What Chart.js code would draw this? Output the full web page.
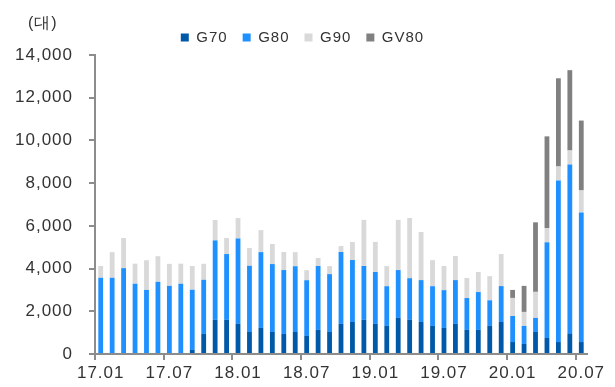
<!DOCTYPE html>
<html>
<head>
<meta charset="utf-8">
<script src="https://cdn.jsdelivr.net/npm/chart.js@4.4.1/dist/chart.umd.min.js"></script>
<style>
  html, body { margin: 0; padding: 0; background: #fff; }
  #wrap { width: 615px; height: 387px; }
</style>
</head>
<body>
<div id="wrap"><canvas id="chartG"></canvas></div>
<script>
// 월별 판매 (대)
var months = [
  '17.01','17.02','17.03','17.04','17.05','17.06','17.07','17.08','17.09','17.10','17.11','17.12',
  '18.01','18.02','18.03','18.04','18.05','18.06','18.07','18.08','18.09','18.10','18.11','18.12',
  '19.01','19.02','19.03','19.04','19.05','19.06','19.07','19.08','19.09','19.10','19.11','19.12',
  '20.01','20.02','20.03','20.04','20.05','20.06','20.07'
];
var g70 = [0,0,0,0,0,0,0,0,190,940,1600,1600,
  1410,1030,1220,1030,940,1030,845,1130,1030,1410,1500,1600,
  1410,1315,1690,1600,1500,1315,1220,1410,1130,1130,1315,1500,
  560,470,1030,750,560,940,560];
var g80 = [3570,3570,4020,3290,3000,3380,3190,3290,2820,2535,3720,3080,
  4000,3100,3550,3180,2990,3080,2610,2990,2710,3365,2900,2520,
  2430,1860,2240,1950,1960,1860,1770,2050,1490,1770,1200,1680,
  1220,845,660,4480,7560,7930,6070];
var g90 = [550,1200,1410,940,1390,1200,1030,940,1110,750,955,750,
  955,830,1030,940,845,660,470,375,375,280,845,2160,
  1410,940,2350,2820,2250,1220,1130,1130,940,940,1130,1500,
  845,655,1220,660,660,660,1030];
var gv80 = [0,0,0,0,0,0,0,0,0,0,0,0,
  0,0,0,0,0,0,0,0,0,0,0,0,
  0,0,0,0,0,0,0,0,0,0,0,0,
  375,1220,3255,4300,4130,3760,3270];
var yTicks = [0, 2000, 4000, 6000, 8000, 10000, 12000, 14000];

var axisGrey = '#8c8c8c';
var textCol = '#333333';

// espacement des lettres comme l'original
var spacing = {
  id: 'spacing',
  beforeDraw: function (chart) { chart.ctx.letterSpacing = '1px'; },
  afterDraw: function (chart) {
    var ctx = chart.ctx;
    ctx.save();
    ctx.fillStyle = textCol;
    ctx.font = '16px "Liberation Sans", Arial, sans-serif';
    ctx.textBaseline = 'middle';
    ctx.fillText('(대)', 28, 24);
    ctx.restore();
  }
};

new Chart(document.getElementById('chartG'), {
  type: 'bar',
  data: {
    labels: months,
    datasets: [
      { label: 'G70', data: g70, backgroundColor: '#0058a8' },
      { label: 'G80', data: g80, backgroundColor: '#1e90ff' },
      { label: 'G90', data: g90, backgroundColor: '#d9d9d9' },
      { label: 'GV80', data: gv80, backgroundColor: '#808080' }
    ]
  },
  options: {
    responsive: true,
    maintainAspectRatio: false,
    animation: false,
    layout: { padding: { top: 15, right: 28, left: 5, bottom: 0 } },
    datasets: { bar: { barPercentage: 0.42, categoryPercentage: 1 } },
    plugins: {
      legend: {
        position: 'top',
        labels: {
          boxWidth: 8, boxHeight: 8, padding: 15,
          color: textCol,
          font: { family: '"Liberation Sans", Arial, sans-serif', size: 15 }
        }
      },
      tooltip: { enabled: false }
    },
    scales: {
      x: {
        stacked: true,
        border: { color: axisGrey, width: 2 },
        grid: {
          offset: true,
          drawOnChartArea: false,
          tickLength: 6,
          lineWidth: 2,
          color: function (c) { return c.index % 6 === 0 ? axisGrey : 'rgba(0,0,0,0)'; }
        },
        ticks: {
          autoSkip: false, maxRotation: 0, padding: 5,
          color: textCol,
          font: { family: '"Liberation Sans", Arial, sans-serif', size: 17, lineHeight: 1 },
          callback: function (v, i) { return i % 6 === 0 ? months[i] : ''; }
        }
      },
      y: {
        stacked: true,
        min: 0, max: 14000,
        afterBuildTicks: function (axis) { axis.ticks = yTicks.map(function (v) { return { value: v }; }); },
        border: { color: axisGrey, width: 2 },
        grid: { drawOnChartArea: false, tickLength: 6, lineWidth: 2, color: axisGrey },
        ticks: {
          padding: 16,
          color: textCol,
          font: { family: '"Liberation Sans", Arial, sans-serif', size: 17 },
          callback: function (v) { return v.toLocaleString('en-US'); }
        }
      }
    }
  },
  plugins: [spacing]
});
</script>
</body>
</html>
